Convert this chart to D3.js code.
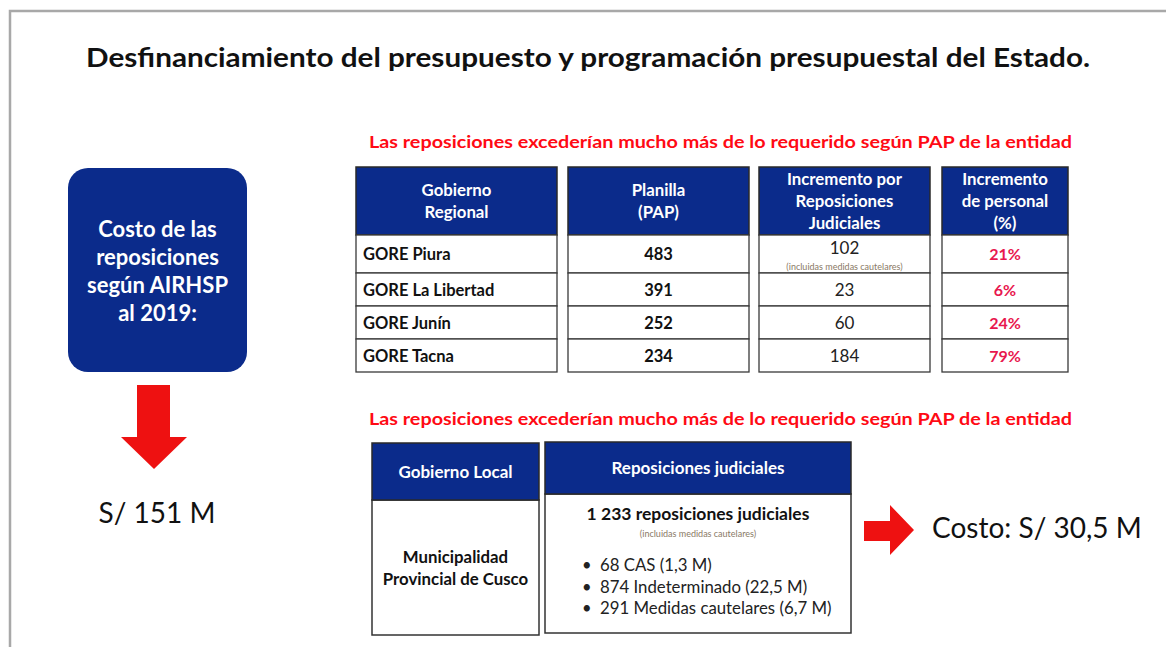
<!DOCTYPE html>
<html>
<head>
<meta charset="utf-8">
<script src="https://cdn.jsdelivr.net/npm/d3@7"></script>
<style>
  html, body { margin: 0; padding: 0; background: #fff; }
  svg { display: block; font-family: Lato, "Open Sans", sans-serif; }
</style>
</head>
<body>
<div id="slide"></div>
<script>
// data
const title = "Desfinanciamiento del presupuesto y programación presupuestal del Estado.";
const subtitle = "Las reposiciones excederían mucho más de lo requerido según PAP de la entidad";
const costBoxLines = ["Costo de las", "reposiciones", "según AIRHSP", "al 2019:"];
const costTotal = "S/ 151 M";

const regions = ["GORE Piura", "GORE La Libertad", "GORE Junín", "GORE Tacna"];
const planilla = [483, 391, 252, 234];
const incremento = [102, 23, 60, 184];
const headers = [
  ["Gobierno", "Regional"],
  ["Planilla", "(PAP)"],
  ["Incremento por", "Reposiciones", "Judiciales"],
  ["Incremento", "de personal", "(%)"]
];
const note = "(incluidas medidas cautelares)";

const localHeaders = ["Gobierno Local", "Reposiciones judiciales"];
const localGov = ["Municipalidad", "Provincial de Cusco"];
const localTotal = "1 233 reposiciones judiciales";
const localBullets = ["68 CAS (1,3 M)", "874 Indeterminado (22,5 M)", "291 Medidas cautelares (6,7 M)"];
const localCost = "Costo: S/ 30,5 M";

const navy = "#0b2b8b";
const red = "#ee1111";
const pink = "#e8174e";
const fmtPct = d3.format(".0%");
const pct = incremento.map((v, i) => fmtPct(v / planilla[i]));

const W = 1166, H = 647;
const svg = d3.select("#slide").append("svg").attr("width", W).attr("height", H);

// slide frame
svg.append("path")
  .attr("d", `M10,${H} V11 H${W}`)
  .attr("fill", "none")
  .attr("stroke", "#a8a8a8")
  .attr("stroke-width", 2.5);

svg.append("text")
  .attr("x", 86).attr("y", 67)
  .attr("textLength", 1004).attr("lengthAdjust", "spacingAndGlyphs")
  .attr("font-size", 27).attr("font-weight", 700).attr("fill", "#111")
  .text(title);

// left cost box
svg.append("rect")
  .attr("x", 68).attr("y", 168).attr("width", 179).attr("height", 204)
  .attr("rx", 20).attr("fill", navy);

svg.append("g")
  .selectAll("text")
  .data(costBoxLines)
  .join("text")
  .attr("x", 157.5)
  .attr("y", (d, i) => 237 + i * 28)
  .attr("text-anchor", "middle")
  .attr("font-size", 22).attr("font-weight", 700).attr("fill", "#fff")
  .text(d => d);

function arrow(g, pts) {
  g.append("path")
    .attr("d", d3.line()(pts) + "Z")
    .attr("fill", red);
}

arrow(svg, [[137, 385], [170, 385], [170, 437], [187, 437], [154, 469], [121, 437], [137, 437]]);

svg.append("text")
  .attr("x", 157).attr("y", 523)
  .attr("text-anchor", "middle")
  .attr("font-size", 28).attr("fill", "#111")
  .text(costTotal);

// red subtitles
[148, 425].forEach(y => {
  svg.append("text")
    .attr("x", 369).attr("y", y)
    .attr("textLength", 703).attr("lengthAdjust", "spacingAndGlyphs")
    .attr("font-size", 17).attr("font-weight", 700).attr("fill", "#ff0a14")
    .text(subtitle);
});

// regional table
const cols = [
  { x0: 356, x1: 557 },
  { x0: 568, x1: 749 },
  { x0: 759, x1: 930 },
  { x0: 942, x1: 1068 }
];
const headTop = 167, headBottom = 235;
const rowY = d3.scaleLinear().domain([0, 1, 2, 3, 4]).range([235, 273, 306, 339, 372]);
const lineH = 22;

const colG = svg.append("g").selectAll("g")
  .data(cols)
  .join("g");

colG.append("rect")
  .attr("x", d => d.x0).attr("y", headTop)
  .attr("width", d => d.x1 - d.x0).attr("height", headBottom - headTop)
  .attr("fill", navy).attr("stroke", "#2a2a2a").attr("stroke-width", 1.5);

colG.each(function (c, ci) {
  const g = d3.select(this);
  const lines = headers[ci];
  const mid = (headTop + headBottom) / 2;
  g.selectAll("text.head")
    .data(lines)
    .join("text")
    .attr("class", "head")
    .attr("x", (c.x0 + c.x1) / 2)
    .attr("y", (d, i) => mid + (i - (lines.length - 1) / 2) * lineH + 6)
    .attr("text-anchor", "middle")
    .attr("font-size", 16.8).attr("font-weight", 700).attr("fill", "#fff")
    .text(d => d);

  g.selectAll("rect.cell")
    .data(regions)
    .join("rect")
    .attr("class", "cell")
    .attr("x", c.x0).attr("y", (d, i) => rowY(i))
    .attr("width", c.x1 - c.x0).attr("height", (d, i) => rowY(i + 1) - rowY(i))
    .attr("fill", "#fff").attr("stroke", "#3a3a3a").attr("stroke-width", 1.3);
});

const rowMid = i => (rowY(i) + rowY(i + 1)) / 2;

svg.append("g").selectAll("text")
  .data(regions)
  .join("text")
  .attr("x", cols[0].x0 + 7)
  .attr("y", (d, i) => rowMid(i) + 6)
  .attr("font-size", 16.5).attr("font-weight", 700).attr("fill", "#111")
  .text(d => d);

svg.append("g").selectAll("text")
  .data(planilla)
  .join("text")
  .attr("x", (cols[1].x0 + cols[1].x1) / 2)
  .attr("y", (d, i) => rowMid(i) + 6)
  .attr("text-anchor", "middle")
  .attr("font-size", 16.5).attr("font-weight", 700).attr("fill", "#111")
  .text(d => d);

svg.append("g").selectAll("text")
  .data(incremento)
  .join("text")
  .attr("x", (cols[2].x0 + cols[2].x1) / 2)
  .attr("y", (d, i) => (i === 0 ? rowY(0) + 19 : rowMid(i) + 6))
  .attr("text-anchor", "middle")
  .attr("font-size", 17).attr("fill", "#222")
  .text(d => d);

svg.append("text")
  .attr("x", (cols[2].x0 + cols[2].x1) / 2)
  .attr("y", rowY(1) - 3)
  .attr("text-anchor", "middle")
  .attr("font-size", 9).attr("fill", "#8a7a66")
  .text(note);

svg.append("g").selectAll("text")
  .data(pct)
  .join("text")
  .attr("x", (cols[3].x0 + cols[3].x1) / 2)
  .attr("y", (d, i) => rowMid(i) + 6)
  .attr("text-anchor", "middle")
  .attr("font-size", 16).attr("font-weight", 700).attr("fill", pink)
  .text(d => d);

// local government table
const lcols = [
  { x0: 372, x1: 539, head: [443, 500], bottom: 635 },
  { x0: 545, x1: 851, head: [442, 494], bottom: 633 }
];

const lg = svg.append("g").selectAll("g")
  .data(lcols)
  .join("g");

lg.append("rect")
  .attr("x", d => d.x0).attr("y", d => d.head[1])
  .attr("width", d => d.x1 - d.x0).attr("height", d => d.bottom - d.head[1])
  .attr("fill", "#fff").attr("stroke", "#333").attr("stroke-width", 1.5);

lg.append("rect")
  .attr("x", d => d.x0).attr("y", d => d.head[0])
  .attr("width", d => d.x1 - d.x0).attr("height", d => d.head[1] - d.head[0])
  .attr("fill", navy).attr("stroke", "#2a2a2a").attr("stroke-width", 1.5);

lg.append("text")
  .attr("x", d => (d.x0 + d.x1) / 2)
  .attr("y", d => (d.head[0] + d.head[1]) / 2 + 6)
  .attr("text-anchor", "middle")
  .attr("font-size", 17).attr("font-weight", 700).attr("fill", "#fff")
  .text((d, i) => localHeaders[i]);

svg.append("g").selectAll("text")
  .data(localGov)
  .join("text")
  .attr("x", (lcols[0].x0 + lcols[0].x1) / 2)
  .attr("y", (d, i) => 563 + i * 22)
  .attr("text-anchor", "middle")
  .attr("font-size", 16.8).attr("font-weight", 700).attr("fill", "#111")
  .text(d => d);

const lmid = (lcols[1].x0 + lcols[1].x1) / 2;
svg.append("text")
  .attr("x", lmid).attr("y", 520)
  .attr("text-anchor", "middle")
  .attr("font-size", 17.5).attr("font-weight", 700).attr("fill", "#111")
  .text(localTotal);

svg.append("text")
  .attr("x", lmid).attr("y", 537)
  .attr("text-anchor", "middle")
  .attr("font-size", 9).attr("fill", "#8a7a66")
  .text(note);

const bl = svg.append("g").selectAll("g")
  .data(localBullets)
  .join("g")
  .attr("transform", (d, i) => `translate(582,${571 + i * 21.5})`);

bl.append("text").attr("font-size", 16.5).attr("fill", "#222").text("•");
bl.append("text").attr("x", 18).attr("font-size", 16.8).attr("fill", "#222").text(d => d);

arrow(svg, [[864, 521], [890, 521], [890, 505], [914, 530], [890, 555], [890, 541], [864, 541]]);

svg.append("text")
  .attr("x", 932).attr("y", 538)
  .attr("font-size", 28).attr("fill", "#111")
  .text(localCost);
</script>
</body>
</html>
